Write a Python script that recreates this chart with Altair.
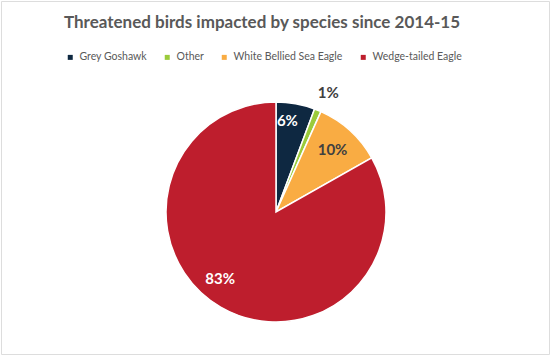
import altair as alt
import pandas as pd

TITLE = "Threatened birds impacted by species since 2014-15"
species = ["Grey Goshawk", "Other", "White Bellied Sea Eagle", "Wedge-tailed Eagle"]
shares = [5.7, 1.0, 10.1, 83.2]
colors = ["#0E2841", "#9BCB3B", "#F9AC43", "#BE1E2D"]

df = pd.DataFrame({"species": species, "value": shares, "order": list(range(len(species)))})

CX, CY, R = 275, 211, 110
FONT = "Lato"

color_enc = alt.Color(
    "species:N",
    scale=alt.Scale(domain=species, range=colors),
    sort=species,
    legend=alt.Legend(
        title=None,
        orient="none",
        direction="horizontal",
        legendX=64,
        legendY=51,
        symbolType="square",
        symbolSize=25,
        symbolStrokeWidth=0,
        labelFont=FONT,
        labelFontSize=10.5,
        labelColor="#595959",
        columnPadding=15,
        labelOffset=4,
    ),
)

base = alt.Chart(df)

pie = base.mark_arc(stroke="white", strokeWidth=1.5, outerRadius=R).encode(
    theta=alt.Theta("value:Q", stack=True),
    order=alt.Order("order:Q"),
    color=color_enc,
    x=alt.value(CX),
    y=alt.value(CY),
)

lab = (
    base.transform_joinaggregate(total="sum(value)")
    .transform_window(cum="sum(value)", sort=[alt.SortField("order")], frame=[None, 0])
    .transform_calculate(
        mid="(datum.cum - datum.value / 2) / datum.total * 2 * PI",
        label="format(round(datum.value), 'd') + '%'",
    )
)


def label_layer(name, radius, color, dx=0, dy=0):
    return lab.transform_filter(alt.datum.species == name).mark_text(
        font=FONT, fontSize=15, fontWeight="bold", color=color, dx=dx, dy=dy
    ).encode(
        theta=alt.Theta("mid:Q", scale=None),
        radius=alt.value(radius),
        text="label:N",
        x=alt.value(CX),
        y=alt.value(CY),
    )


labels = [
    label_layer(species[0], 92, "white", dx=-5),
    label_layer(species[1], 130, "#404040", dx=3, dy=1),
    label_layer(species[2], 84, "#404040"),
    label_layer(species[3], 87, "white", dx=-12, dy=-8),
]

title = alt.Chart(pd.DataFrame({"t": [TITLE]})).mark_text(
    font=FONT, fontSize=17, fontWeight="bold", color="#595959", baseline="alphabetic"
).encode(text="t:N", x=alt.value(261), y=alt.value(27))

chart = (
    alt.layer(pie, *labels, title)
    .properties(
        width=548,
        height=353,
        autosize="none",
        padding={"left": 1, "top": 1, "right": 1, "bottom": 1},
    )
    .configure_view(stroke="#D9D9D9", strokeWidth=2)
    .configure(background="white")
)

chart.save("out.html", embed_options={"renderer": "svg", "actions": False})
